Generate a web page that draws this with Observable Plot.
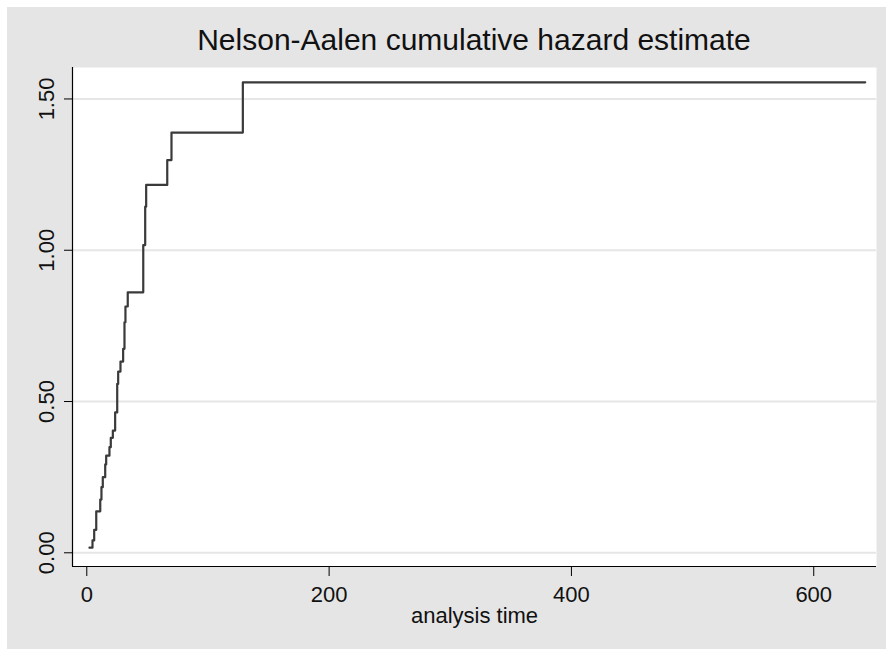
<!DOCTYPE html>
<html>
<head>
<meta charset="utf-8">
<script src="https://cdn.jsdelivr.net/npm/d3@7"></script>
<script src="https://cdn.jsdelivr.net/npm/@observablehq/plot@0.6"></script>
<style>
  html, body { margin: 0; padding: 0; background: #ffffff; }
  #wrap { position: absolute; left: 7px; top: 7px; width: 879px; height: 642px; background: #e5e5e5; overflow: hidden; }
  #title { height: 57px; width: 879px; font-family: "Liberation Sans", Arial, sans-serif; font-size: 30px; color: #111; }
  #title span { position: absolute; left: 0; width: 934px; text-align: center; top: 16px; line-height: 34px; }
  svg { display: block; }
</style>
</head>
<body>
<div id="wrap">
  <div id="title"><span>Nelson-Aalen cumulative hazard estimate</span></div>
  <div id="chart"></div>
</div>
<script>
// analysis times at which the estimate steps, and the cumulative hazard after each step
const times  = [2.2, 4.7, 6.1, 7.8, 11.1, 12.1, 13.2, 15.2, 16.0, 18.7, 19.8, 21.5, 23.4, 25.1, 25.9, 27.8, 30.0, 31.1, 31.9, 33.8, 46.6, 48.2, 49.0, 66.4, 69.9, 128.8, 642.5];
const hazard = [0.017, 0.041, 0.076, 0.137, 0.176, 0.217, 0.250, 0.292, 0.321, 0.349, 0.380, 0.404, 0.464, 0.558, 0.599, 0.632, 0.674, 0.762, 0.814, 0.861, 1.017, 1.144, 1.216, 1.298, 1.389, 1.555, 1.555];
const xTicks = [0, 200, 400, 600];
const yTicks = [0, 0.5, 1.0, 1.5];
const xLabel = "analysis time";

const xDomain = [-11.8, 651.8];
const yDomain = [-0.0453, 1.604];

const data = times.map((t, i) => ({t, h: hazard[i]}));
const font = "Liberation Sans, Arial, sans-serif";

const chart = Plot.plot({
  width: 879,
  height: 585,
  marginLeft: 65,
  marginRight: 10,
  marginTop: 3,
  marginBottom: 83,
  style: {background: "transparent", fontFamily: font, color: "#111"},
  x: {domain: xDomain},
  y: {domain: yDomain},
  marks: [
    Plot.frame({fill: "white", stroke: null}),
    Plot.ruleY(yTicks, {stroke: "#e6e6e6", strokeWidth: 2}),
    Plot.ruleX([xDomain[0]], {stroke: "#000", strokeWidth: 1.2}),
    Plot.ruleY([yDomain[0]], {stroke: "#000", strokeWidth: 1.2}),
    Plot.axisX({ticks: xTicks, tickSize: 10, tickPadding: 10, fontSize: 22, label: null, tickFormat: d => String(d), stroke: "#000"}),
    Plot.axisY({ticks: yTicks, tickSize: 8, label: null, tickFormat: () => "", stroke: "#000"}),
    Plot.text(yTicks, {y: d => d, text: d => d.toFixed(2), frameAnchor: "left", rotate: -90, dx: -26, textAnchor: "middle", lineAnchor: "middle", fontSize: 22, fill: "#111"}),
    Plot.text([xLabel], {text: d => d, frameAnchor: "bottom", dy: 49, lineAnchor: "middle", fontSize: 22, fill: "#111"}),
    Plot.line(data, {x: "t", y: "h", curve: "step-after", stroke: "#3a3a3a", strokeWidth: 2.2})
  ]
});
document.getElementById("chart").appendChild(chart);
</script>
</body>
</html>
